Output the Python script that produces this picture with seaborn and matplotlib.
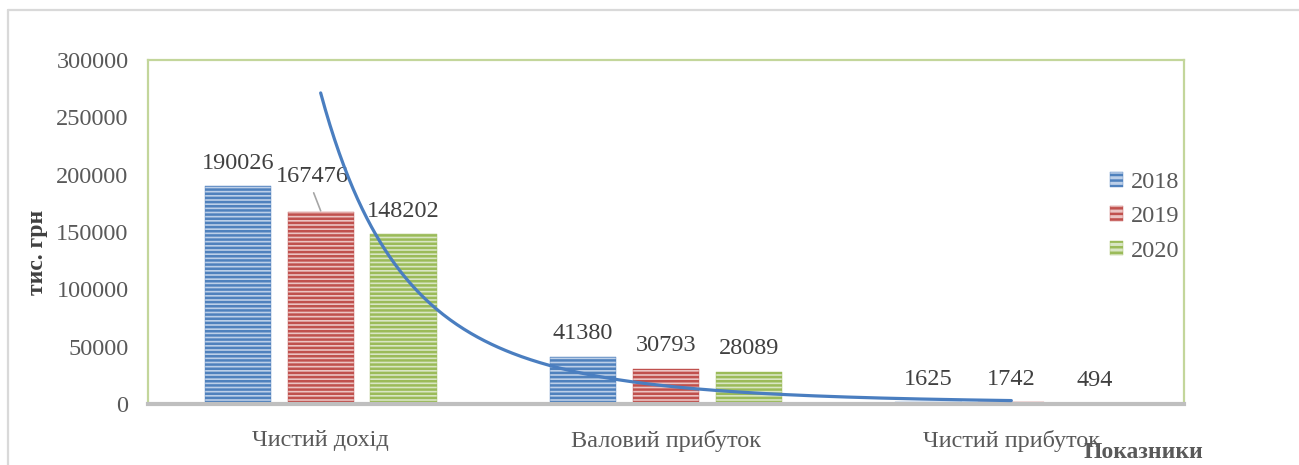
import numpy as np
import pandas as pd
import matplotlib
matplotlib.use("Agg")
import matplotlib.pyplot as plt
import seaborn as sns
from matplotlib.lines import Line2D

categories = ["Чистий дохід", "Валовий прибуток", "Чистий прибуток"]
years = ["2018", "2019", "2020"]
values_2018 = [190026, 41380, 1625]
values_2019 = [167476, 30793, 1742]
values_2020 = [148202, 28089, 494]
y_ticks = [0, 50000, 100000, 150000, 200000, 250000, 300000]
y_label = "тис. грн"
x_label = "Показники"

colors = ["#4F81BD", "#C0504D", "#9BBB59"]
light = ["#BCCFE8", "#EBC3C2", "#D9E6C4"]

sns.set_theme(style="white")
plt.rcParams["font.family"] = ["Liberation Serif", "DejaVu Serif"]
plt.rcParams["hatch.linewidth"] = 1.8

df = pd.DataFrame({
    "cat": categories * 3,
    "year": [years[0]] * 3 + [years[1]] * 3 + [years[2]] * 3,
    "val": values_2018 + values_2019 + values_2020,
})

fig = plt.figure(figsize=(12.99, 4.65), dpi=100)
ax = fig.add_axes([148 / 1299, 61 / 465, 1036 / 1299, 344 / 465])

sns.barplot(data=df, x="cat", y="val", hue="year", order=categories, hue_order=years,
            palette=colors, width=0.72, gap=0.2, ax=ax, legend=True)

for i, cont in enumerate(ax.containers):
    for p in cont.patches:
        p.set_facecolor(light[i])
        p.set_edgecolor(colors[i])
        p.set_hatch("----")
        p.set_linewidth(0.3)

txtc = "#404040"
fs = 17.5
# data labels
for i, cont in enumerate(ax.containers):
    for j, p in enumerate(cont.patches):
        xc = p.get_x() + p.get_width() / 2
        h = p.get_height()
        if i == 1 and j == 0:
            ax.annotate(f"{int(h)}", xy=(xc, h), xytext=(-8, 35), textcoords="offset pixels",
                        ha="center", va="center", fontsize=fs, color=txtc)
            ax.annotate("", xy=(xc, h + 1000), xytext=(-7, 18), textcoords="offset pixels",
                        arrowprops=dict(arrowstyle="-", color="#A6A6A6", lw=1.2, shrinkA=0, shrinkB=0))
        else:
            ax.annotate(f"{int(h)}", xy=(xc, h), xytext=(0, 23), textcoords="offset pixels",
                        ha="center", va="center", fontsize=fs, color=txtc)

# power trendline of the 2018 series
xi = np.arange(1, len(values_2018) + 1)
b, lna = np.polyfit(np.log(xi), np.log(values_2018), 1)
xs = np.linspace(1, len(values_2018), 300)
ys = np.exp(lna) * xs ** b
ax.plot(xs - 1, ys, color="#4A7EC0", lw=2.3, solid_capstyle="round", zorder=5)

ax.set_xlim(-0.5, 2.5)
ax.set_ylim(0, 300000)
ax.set_yticks(y_ticks)
ax.set_yticklabels([str(t) for t in y_ticks])
ax.tick_params(axis="y", labelsize=fs, labelcolor="#595959", length=0, pad=14)
ax.tick_params(axis="x", labelsize=fs, labelcolor="#595959", length=0, pad=19)
ax.set_xlabel("")
ax.set_ylabel(y_label, fontsize=17, fontweight="bold", color=txtc)
ax.yaxis.set_label_coords(-0.097, 0.44)

for side in ["left", "top", "right"]:
    ax.spines[side].set_color("#C3D69B")
    ax.spines[side].set_linewidth(1.6)
ax.spines["bottom"].set_color("#BFBFBF")
ax.spines["bottom"].set_linewidth(3)

handles, labels = ax.get_legend_handles_labels()
for i, hd in enumerate(handles):
    hd.set_facecolor(light[i])
    hd.set_edgecolor(colors[i])
    hd.set_hatch("---")
    hd.set_linewidth(0.3)
ax.legend(handles, labels, loc="upper left", bbox_to_anchor=(1110 / 1299, 1 - 172 / 465),
          bbox_transform=fig.transFigure, frameon=False, fontsize=fs,
          handlelength=0.55, handleheight=0.55, handletextpad=0.3, labelspacing=0.55,
          labelcolor="#595959", borderpad=0, borderaxespad=0)

fig.text(1143 / 1299, 1 - 452 / 465, x_label, ha="center", va="center", fontsize=17,
         fontweight="bold", color="#595959")

# outer chart frame
fig.add_artist(Line2D([8 / 1299, 8 / 1299], [0, 1 - 10 / 465], color="#D9D9D9", lw=1.6,
                      transform=fig.transFigure))
fig.add_artist(Line2D([8 / 1299, 1], [1 - 10 / 465, 1 - 10 / 465], color="#D9D9D9", lw=1.6,
                      transform=fig.transFigure))

fig.savefig("out.png", dpi=100)
